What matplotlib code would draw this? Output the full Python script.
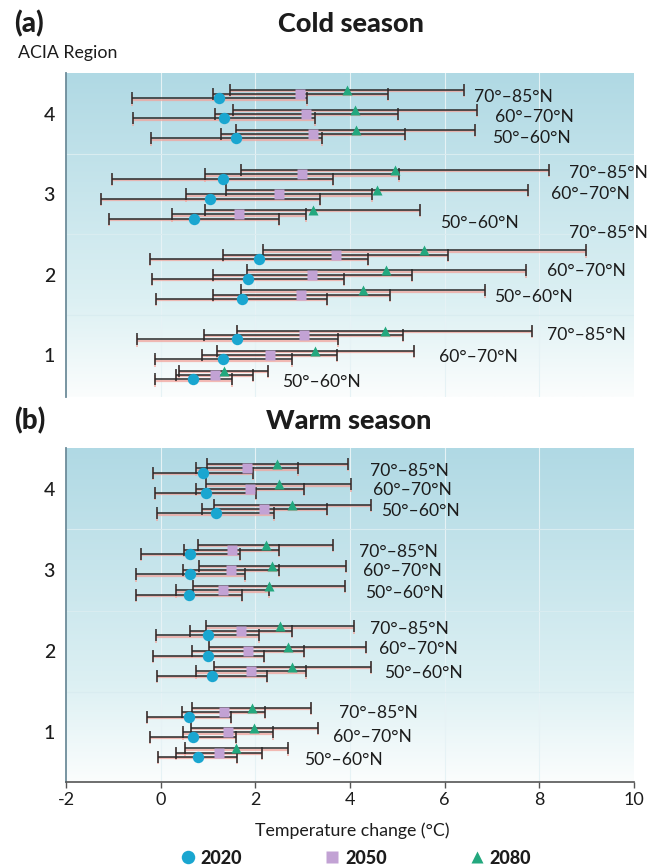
import matplotlib
matplotlib.use('Agg')
import matplotlib.pyplot as plt
import numpy as np
from matplotlib.colors import LinearSegmentedColormap
from matplotlib.lines import Line2D

plt.rcParams['font.family'] = ['Lato', 'DejaVu Sans']

# ---------------------------------------------------------------------------
# Data (order: region 1..4, each with bands 50-60, 60-70, 70-85 N)
# ---------------------------------------------------------------------------

REGIONS = [1, 2, 3, 4]
BANDS = ['50°–60°N', '60°–70°N', '70°–85°N']
YEARS = ['2020', '2050', '2080']

cold_2020 = [0.69, 1.32, 1.62, 1.71, 1.85, 2.07, 0.70, 1.05, 1.31, 1.60, 1.33, 1.24]
cold_2020_err = [0.81, 1.45, 2.13, 1.80, 2.03, 2.30, 1.80, 2.31, 2.33, 1.81, 1.92, 1.85]
cold_2050 = [1.14, 2.30, 3.02, 2.97, 3.20, 3.70, 1.65, 2.50, 2.99, 3.22, 3.08, 2.95]
cold_2050_err = [0.81, 1.43, 2.11, 1.87, 2.10, 2.38, 1.42, 1.96, 2.05, 1.95, 1.93, 1.85]
cold_2080 = [1.33, 3.27, 4.73, 4.27, 4.77, 5.57, 3.21, 4.58, 4.95, 4.12, 4.11, 3.93]
cold_2080_err = [0.94, 2.09, 3.12, 2.58, 2.94, 3.41, 2.27, 3.19, 3.26, 2.52, 2.58, 2.47]

warm_2020 = [0.78, 0.69, 0.60, 1.08, 1.01, 0.99, 0.60, 0.63, 0.63, 1.16, 0.95, 0.89]
warm_2020_err = [0.84, 0.91, 0.89, 1.16, 1.18, 1.09, 1.12, 1.15, 1.05, 1.24, 1.07, 1.06]
warm_2050 = [1.23, 1.42, 1.33, 1.91, 1.85, 1.69, 1.31, 1.48, 1.50, 2.19, 1.88, 1.83]
warm_2050_err = [0.91, 0.95, 0.88, 1.17, 1.18, 1.08, 0.98, 1.01, 1.00, 1.32, 1.14, 1.08]
warm_2080 = [1.60, 1.98, 1.92, 2.78, 2.68, 2.52, 2.29, 2.36, 2.22, 2.78, 2.49, 2.46]
warm_2080_err = [1.08, 1.34, 1.26, 1.66, 1.65, 1.56, 1.60, 1.56, 1.43, 1.66, 1.53, 1.49]

# ---------------------------------------------------------------------------
# Layout / style
# ---------------------------------------------------------------------------

# where the band labels sit: x in data units, y shift (pixels, + = down)
cold_label_x = [2.56, 5.89, 8.16, 7.04, 8.16, 8.62, 5.91, 8.25, 8.62, 7.01, 7.07, 6.63]
cold_label_dy = [7, 2, 0, 2, -4, -22, 9, 0, -1, 4, 3, 3]
warm_label_x = [3.03, 3.65, 3.77, 4.73, 4.62, 4.42, 4.32, 4.27, 4.18, 4.65, 4.49, 4.42]
warm_label_dy = [7, 5, 1, 2, -2, -2, 3, 1, 2, 2, 1, 3]

COLORS = {'2020': '#1aa6d0', '2050': '#c2a2d4', '2080': '#23a87e'}
MARKERS = {'2020': ('o', 8.2), '2050': ('s', 6.5), '2080': ('^', 7.2)}
SERIES_DY = {'2020': -0.054, '2050': 0.0, '2080': 0.054}
BAND_STEP = 0.25
TXT = '#1c1c1c'
BAR_COL = '#2a2a2a'
SHADOW = '#f2a49c'

W, H = 652, 868
fig = plt.figure(figsize=(W / 100, H / 100), dpi=100)
fig.patch.set_facecolor('white')

grad_cmap = LinearSegmentedColormap.from_list(
    'bg', [(0.0, '#fbfdfd'), (0.3, '#dcf0f3'), (1.0, '#b0d9e4')])


def band_y():
    ys = []
    for r in REGIONS:
        for b in range(len(BANDS)):
            ys.append(r + (b - 1) * BAND_STEP)
    return np.array(ys)


def draw_panel(ax, series, errs, label_x, label_dy, ylim, show_x):
    ax.set_xlim(-2, 10)
    ax.set_ylim(*ylim)
    grad = np.linspace(0, 1, 256).reshape(-1, 1)
    ax.imshow(grad, extent=[-2, 10, ylim[0], ylim[1]], origin='lower',
              aspect='auto', cmap=grad_cmap, zorder=0)
    for gx in [0, 2, 4, 6, 8]:
        ax.axvline(gx, color='#e6f2f5', lw=0.8, zorder=1)
    for gy in [1.5, 2.5, 3.5]:
        ax.axhline(gy, color='#d9ecf0', lw=0.8, zorder=1)

    ppu = ax.bbox.height / (ylim[1] - ylim[0])
    y0 = band_y()
    for year in YEARS:
        vals = np.array(series[year])
        err = np.array(errs[year])
        ys = y0 + SERIES_DY[year]
        # pinkish print halo under each bar
        ax.errorbar(vals, ys - 1.3 / ppu, xerr=err, fmt='none', ecolor=SHADOW,
                    elinewidth=1.6, capsize=4, capthick=1.3, alpha=0.75, zorder=2)
        ax.errorbar(vals, ys, xerr=err, fmt='none', ecolor=BAR_COL,
                    elinewidth=1.1, capsize=4, capthick=1.1, zorder=3)
    for year in YEARS:
        m, ms = MARKERS[year]
        ax.plot(series[year], y0 + SERIES_DY[year], ls='none', marker=m,
                ms=ms, color=COLORS[year], mec='none', zorder=5)

    for i, (lx, dy) in enumerate(zip(label_x, label_dy)):
        ax.text(lx, y0[i] - dy / ppu, BANDS[i % 3], fontsize=12.6,
                color=TXT, ha='left', va='center', zorder=6)

    ax.set_yticks(REGIONS)
    ax.set_yticklabels([str(r) for r in REGIONS], fontsize=14, color=TXT,
                       fontweight='medium')
    ax.tick_params(axis='y', length=0, pad=8)
    for s in ['top', 'right']:
        ax.spines[s].set_visible(False)
    ax.spines['left'].set_color('#6d8c9a')
    ax.spines['left'].set_linewidth(1.3)
    if show_x:
        ax.set_xticks(range(-2, 11, 2))
        ax.set_xticklabels([str(v) for v in range(-2, 11, 2)], fontsize=13, color=TXT)
        ax.tick_params(axis='x', direction='out', length=4, width=1.0,
                       color='#555555', pad=3)
        ax.spines['bottom'].set_color('#555555')
        ax.spines['bottom'].set_linewidth(1.2)
    else:
        ax.set_xticks([])
        ax.spines['bottom'].set_visible(False)


ax_cold = fig.add_axes([66 / W, 1 - 397 / H, 568 / W, 324 / H])
ax_warm = fig.add_axes([66 / W, 1 - 782 / H, 568 / W, 334 / H])

draw_panel(ax_cold,
           {'2020': cold_2020, '2050': cold_2050, '2080': cold_2080},
           {'2020': cold_2020_err, '2050': cold_2050_err, '2080': cold_2080_err},
           cold_label_x, cold_label_dy, (0.477, 4.51), False)
draw_panel(ax_warm,
           {'2020': warm_2020, '2050': warm_2050, '2080': warm_2080},
           {'2020': warm_2020_err, '2050': warm_2050_err, '2080': warm_2080_err},
           warm_label_x, warm_label_dy, (0.39, 4.50), True)

fig.text(14 / W, 1 - 24 / H, '(a)', fontsize=20, fontweight='black', color=TXT,
         ha='left', va='center')
fig.text(351 / W, 1 - 24 / H, 'Cold season', fontsize=19.5, fontweight='black',
         color=TXT, ha='center', va='center')
fig.text(18 / W, 1 - 53 / H, 'ACIA Region', fontsize=12.8, color=TXT,
         ha='left', va='center')
fig.text(14 / W, 1 - 421 / H, '(b)', fontsize=20, fontweight='black', color=TXT,
         ha='left', va='center')
fig.text(349 / W, 1 - 421 / H, 'Warm season', fontsize=19.5, fontweight='black',
         color=TXT, ha='center', va='center')
fig.text(352 / W, 1 - 831 / H, 'Temperature change (°C)', fontsize=12.8,
         color=TXT, ha='center', va='center')

handles = [Line2D([], [], ls='none', marker=MARKERS[y][0], ms=MARKERS[y][1] + 1.5,
                  color=COLORS[y], mec='none') for y in YEARS]
leg = fig.legend(handles, YEARS, loc='center', bbox_to_anchor=(356 / W, 1 - 858 / H),
                 ncol=3, frameon=False, handlelength=0.8, handletextpad=0.3,
                 columnspacing=4.6, prop={'weight': 'black', 'size': 13})
for t in leg.get_texts():
    t.set_color(TXT)

fig.savefig('out.png', dpi=100, facecolor='white')
